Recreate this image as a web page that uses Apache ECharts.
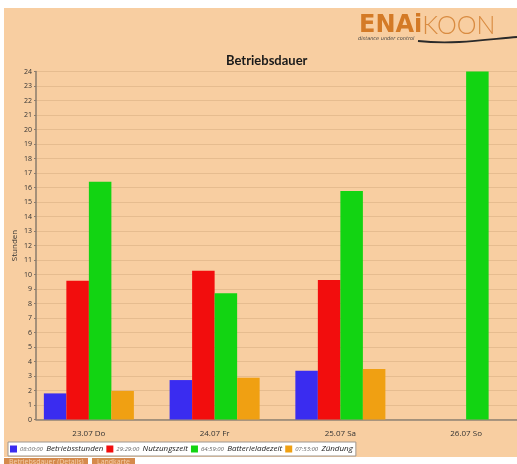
<!DOCTYPE html>
<html>
<head>
<meta charset="utf-8">
<script src="https://cdn.jsdelivr.net/npm/echarts@6/dist/echarts.min.js"></script>
<style>
  html, body { margin: 0; padding: 0; background: #fff; }
  #main { width: 517px; height: 464px; }
</style>
</head>
<body>
<div id="main"></div>
<script>
// Tage (Kategorien)
var days = ['23.07 Do', '24.07 Fr', '25.07 Sa', '26.07 So'];
// Stunden pro Tag
var betriebsstunden = [1.8, 2.72, 3.37, 0];
var nutzungszeit = [9.57, 10.26, 9.62, 0];
var batterieladezeit = [16.4, 8.7, 15.76, 24];
var zuendung = [1.97, 2.88, 3.48, 0];
// Legende: Namen + Summen
var seriesNames = ['Betriebsstunden', 'Nutzungszeit', 'Batterieladezeit', 'Zündung'];
var legendTimes = ['08:00:00', '29:29:00', '64:59:00', '07:53:00'];
var colors = ['#3a2cf0', '#f20d0d', '#12d412', '#f0a012'];

var peach = '#f8cea1';
var yMax = 24;

var chart = echarts.init(document.getElementById('main'));

function bar(name, data, color) {
    return {
        name: name,
        type: 'bar',
        xAxisIndex: 0,
        yAxisIndex: 0,
        data: data,
        barGap: '0%',
        barCategoryGap: '28.4%',
        itemStyle: { color: color },
        z: 3
    };
}

var option = {
    backgroundColor: '#fff',
    animation: false,
    title: {
        text: 'Betriebsdauer',
        left: 221,
        top: 49,
        textStyle: { fontFamily: 'Lato', fontWeight: 'bold', fontSize: 13, color: '#1a1a1a' }
    },
    legend: {
        left: 8,
        top: 442,
        orient: 'horizontal',
        backgroundColor: '#fff',
        borderColor: '#a09890',
        borderWidth: 1,
        borderRadius: 0,
        padding: [1, 3, 1, 2],
        itemWidth: 7,
        itemHeight: 7,
        itemGap: 3,
        icon: 'rect',
        data: seriesNames,
        formatter: function (name) {
            var i = seriesNames.indexOf(name);
            return '{t|' + legendTimes[i] + '} {n|' + name + '}';
        },
        textStyle: {
            padding: [0, 0, 0, -2],
            rich: {
                t: { fontFamily: 'Open Sans', fontStyle: 'italic', fontSize: 6, color: '#666' },
                n: { fontFamily: 'Open Sans', fontStyle: 'italic', fontSize: 8, color: '#222' }
            }
        }
    },
    grid: [
        // Balkenraster (reicht rechts etwas ueber den Rand hinaus)
        { left: 26, width: 503, top: 71.5, bottom: 44.5, outerBoundsMode: 'none', containLabel: false },
        // Hilfslinien und Achsenlinie
        { left: 36, right: 0, top: 71.5, bottom: 44.5, outerBoundsMode: 'none', containLabel: false }
    ],
    xAxis: [
        {
            type: 'category',
            gridIndex: 0,
            data: days,
            axisLine: { show: false },
            axisTick: { show: false },
            axisLabel: { margin: 10, fontFamily: 'Open Sans', fontSize: 8, color: '#333' }
        },
        {
            type: 'value',
            gridIndex: 1,
            min: 0,
            max: 1,
            axisLine: { show: true, lineStyle: { color: '#8f8274', width: 1.5 } },
            axisTick: { show: false },
            axisLabel: { show: false },
            splitLine: { show: false }
        }
    ],
    yAxis: [
        {
            type: 'value',
            gridIndex: 0,
            min: 0,
            max: yMax,
            interval: 1,
            offset: -10,
            name: 'Stunden',
            nameLocation: 'middle',
            nameGap: 17,
            nameMoveOverlap: false,
            nameRotate: 90,
            nameTextStyle: { fontFamily: 'Open Sans', fontSize: 8, color: '#333' },
            axisLine: { show: true, lineStyle: { color: '#8a7b6c', width: 1.5 } },
            axisTick: { show: true, length: 2, lineStyle: { color: '#8a7b6c' } },
            axisLabel: { margin: 4, fontFamily: 'Open Sans', fontSize: 7, color: '#333' },
            splitLine: { show: false }
        },
        {
            type: 'value',
            gridIndex: 1,
            min: 0,
            max: yMax,
            interval: 1,
            axisLine: { show: false },
            axisTick: { show: false },
            axisLabel: { show: false },
            splitLine: { show: true, lineStyle: { color: '#e6bc8f', width: 1 } }
        }
    ],
    graphic: [
        // Hintergrund
        { type: 'rect', z: -10, shape: { x: 4, y: 8, width: 513, height: 449 }, style: { fill: peach } },
        // Logo
        {
            type: 'text', z: 5, left: 359, top: 13,
            style: {
                text: '{a|ENA}{b|i}{c|KOON}',
                rich: {
                    a: { fontFamily: 'DejaVu Sans', fontWeight: 'bold', fontSize: 24, fill: '#d47a26' },
                    b: { fontFamily: 'DejaVu Sans', fontWeight: 'bold', fontSize: 24, fill: '#d47a26' },
                    c: { fontFamily: 'Lato', fontWeight: 300, fontSize: 25, fill: '#d98c42' }
                }
            }
        },
        {
            type: 'text', z: 5, left: 358, top: 36,
            style: { text: 'distance under control', fontFamily: 'DejaVu Sans', fontStyle: 'italic', fontSize: 5, fill: '#444' }
        },
        {
            type: 'bezierCurve', z: 5,
            shape: { x1: 418, y1: 41, cpx1: 455, cpy1: 45, cpx2: 490, cpy2: 39, x2: 517, y2: 37 },
            style: { stroke: '#2a2a2a', lineWidth: 1.8, fill: null }
        },
        // Knoepfe unten
        { type: 'rect', z: 5, shape: { x: 4, y: 458, width: 84, height: 10 }, style: { fill: '#d58a4c' } },
        {
            type: 'text', z: 6, left: 9, top: 458,
            style: { text: 'Betriebsdauer (Details)', fontFamily: 'Open Sans', fontSize: 7, fill: '#f5d2ae' }
        },
        { type: 'rect', z: 5, shape: { x: 92, y: 458, width: 43, height: 10 }, style: { fill: '#d58a4c' } },
        {
            type: 'text', z: 6, left: 97, top: 458,
            style: { text: 'Landkarte', fontFamily: 'Open Sans', fontSize: 7, fill: '#f5d2ae' }
        }
    ],
    series: [
        bar(seriesNames[0], betriebsstunden, colors[0]),
        bar(seriesNames[1], nutzungszeit, colors[1]),
        bar(seriesNames[2], batterieladezeit, colors[2]),
        bar(seriesNames[3], zuendung, colors[3])
    ]
};

chart.setOption(option);
</script>
</body>
</html>
